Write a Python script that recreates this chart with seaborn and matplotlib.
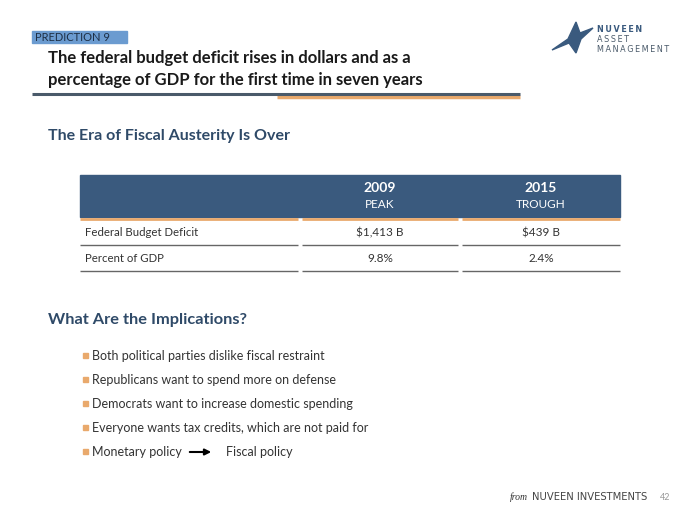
import matplotlib
matplotlib.use("Agg")
import matplotlib.pyplot as plt
import seaborn as sns
from matplotlib.patches import Rectangle, Polygon

sns.set_theme(style="white")
plt.rcParams['font.family'] = ['Lato', 'DejaVu Sans']

NAVY = "#3a5a7e"
ORANGE = "#e9a96c"
GREY_TXT = "#333333"

tag = "PREDICTION 9"
title_lines = ["The federal budget deficit rises in dollars and as a",
               "percentage of GDP for the first time in seven years"]
subtitle = "The Era of Fiscal Austerity Is Over"
col_years = ["2009", "2015"]
col_labels = ["PEAK", "TROUGH"]
row_labels = ["Federal Budget Deficit", "Percent of GDP"]
deficit = ["$1,413 B", "$439 B"]
pct_gdp = ["9.8%", "2.4%"]
section2 = "What Are the Implications?"
bullets = ["Both political parties dislike fiscal restraint",
           "Republicans want to spend more on defense",
           "Democrats want to increase domestic spending",
           "Everyone wants tax credits, which are not paid for"]
last_bullet = ("Monetary policy", "Fiscal policy")
footer = "NUVEEN INVESTMENTS"
page = "42"

fig = plt.figure(figsize=(7, 5.25), dpi=100)
ax = fig.add_axes([0, 0, 1, 1])
ax.set_xlim(0, 700)
ax.set_ylim(525, 0)
ax.axis("off")

# tag box
ax.add_patch(Rectangle((32, 31), 95, 12, color="#6b9bd0", zorder=1))
ax.text(35, 37.5, tag, fontsize=8, color="#1e2f45", va="center", ha="left")

# title
for i, line in enumerate(title_lines):
    ax.text(48, 58 + i * 22, line, fontsize=12, fontweight="bold",
            color="#1a1a1a", va="center", ha="left")
ax.plot([277, 520], [96.5, 96.5], color=ORANGE, lw=2.5, solid_capstyle="butt")
ax.plot([32, 520], [94, 94], color="#4a5a6a", lw=2.2, solid_capstyle="butt")

# logo
star = [(552, 50), (568, 39), (576, 22), (580, 33), (593, 28),
        (581, 39), (576, 53), (569, 43)]
ax.add_patch(Polygon(star, closed=True, color=NAVY))
sp = "\u2009"
for i, w in enumerate(["NUVEEN", "ASSET", "MANAGEMENT"]):
    ax.text(597, 30 + i * 9.5, sp.join(w), fontsize=5.8,
            color=NAVY if i == 0 else "#4a5a6a",
            fontweight="bold" if i == 0 else "normal", va="center", ha="left",
            family="DejaVu Sans")

# subtitle
ax.text(48, 136, subtitle, fontsize=11.5, fontweight="bold", color="#2f4a68",
        va="center", ha="left")

# table
cols = [(80, 298), (302, 458), (462, 620)]
centers = [(a + b) / 2 for a, b in cols[1:]]
ax.add_patch(Rectangle((80, 175), 540, 42, color=NAVY, zorder=1))
for cx, yr, lb in zip(centers, col_years, col_labels):
    ax.text(cx, 188, yr, fontsize=10, fontweight="bold", color="white",
            ha="center", va="center")
    ax.text(cx, 205, lb, fontsize=8.5, color="white", ha="center", va="center")
for a, b in cols:
    ax.plot([a, b], [218.5, 218.5], color=ORANGE, lw=2, solid_capstyle="butt")
    ax.plot([a, b], [245, 245], color="#666666", lw=1, solid_capstyle="butt")
    ax.plot([a, b], [271, 271], color="#666666", lw=1, solid_capstyle="butt")
rows = [deficit, pct_gdp]
for i, (lab, vals) in enumerate(zip(row_labels, rows)):
    y = 233 + i * 26
    ax.text(85, y, lab, fontsize=8.2, color=GREY_TXT, ha="left", va="center")
    for cx, v in zip(centers, vals):
        ax.text(cx, y, v, fontsize=8.5, color=GREY_TXT, ha="center", va="center")

# implications
ax.text(48, 320, section2, fontsize=11.8, fontweight="bold", color="#2f4a68",
        va="center", ha="left")
for i, b in enumerate(bullets + [last_bullet[0]]):
    y = 356 + i * 24
    ax.add_patch(Rectangle((82.5, y - 3), 5, 5, color=ORANGE))
    ax.text(92, y, b, fontsize=9, color=GREY_TXT, ha="left", va="center")
ax.annotate("", xy=(214, 452), xytext=(187, 452),
            arrowprops=dict(arrowstyle="-|>", color="black", lw=1.5,
                            mutation_scale=9))
ax.text(226, 452, last_bullet[1], fontsize=9, color=GREY_TXT,
        ha="left", va="center")

# footer
ax.text(528, 497, "from", fontsize=7, style="italic", color="#333333",
        ha="right", va="center", family="Liberation Serif")
ax.text(532, 497, footer, fontsize=7.2, color="#444444", ha="left", va="center",
        family="DejaVu Sans")
ax.text(660, 497, page, fontsize=6.5, color="#999999", ha="left", va="center")

fig.savefig("out.png", dpi=100)
